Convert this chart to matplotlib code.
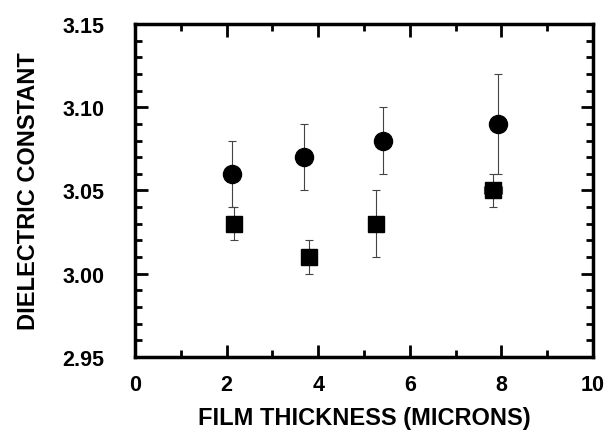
import matplotlib
matplotlib.use('Agg')
import matplotlib.pyplot as plt
from matplotlib.ticker import MultipleLocator

# circles
circ_x = [2.12, 3.69, 5.42, 7.93]
circ_y = [3.06, 3.07, 3.08, 3.09]
circ_err = [0.02, 0.02, 0.02, 0.03]

# squares
sq_x = [2.16, 3.79, 5.26, 7.81]
sq_y = [3.03, 3.01, 3.03, 3.05]
sq_err = [0.01, 0.01, 0.02, 0.01]
sq_xerr = [0, 0, 0, 0.2]

plt.rcParams['font.family'] = 'Liberation Sans'
plt.rcParams['font.weight'] = 'bold'

fig = plt.figure(figsize=(6.06, 4.31), dpi=100)
ax = fig.add_axes([0.2228, 0.1694, 0.7558, 0.7726])

ax.errorbar(circ_x, circ_y, yerr=circ_err, fmt='o', color='black', ms=13,
            ecolor='#444444', elinewidth=0.8, capsize=3, capthick=0.8)
ax.errorbar(sq_x, sq_y, yerr=sq_err, xerr=sq_xerr, fmt='s', color='black', ms=11,
            ecolor='#444444', elinewidth=0.8, capsize=3, capthick=0.8)

ax.set_xlim(0, 10)
ax.set_ylim(2.95, 3.15)
ax.xaxis.set_major_locator(MultipleLocator(2))
ax.xaxis.set_minor_locator(MultipleLocator(1))
ax.yaxis.set_major_locator(MultipleLocator(0.05))
ax.yaxis.set_minor_locator(MultipleLocator(0.01))
ax.yaxis.set_major_formatter(plt.FormatStrFormatter('%.2f'))

ax.tick_params(which='both', direction='in', top=True, right=True, width=2, labelsize=15.5)
ax.tick_params(which='major', length=9)
ax.tick_params(which='minor', length=5)
ax.tick_params(axis='x', which='major', pad=12)
ax.tick_params(axis='y', which='major', pad=22)
for s in ax.spines.values():
    s.set_linewidth(2.5)

ax.set_xlabel('FILM THICKNESS (MICRONS)', fontsize=17, fontweight='bold', labelpad=8)
ax.set_ylabel('DIELECTRIC CONSTANT', fontsize=17, fontweight='bold', labelpad=16)

fig.savefig('out.png', dpi=100)
